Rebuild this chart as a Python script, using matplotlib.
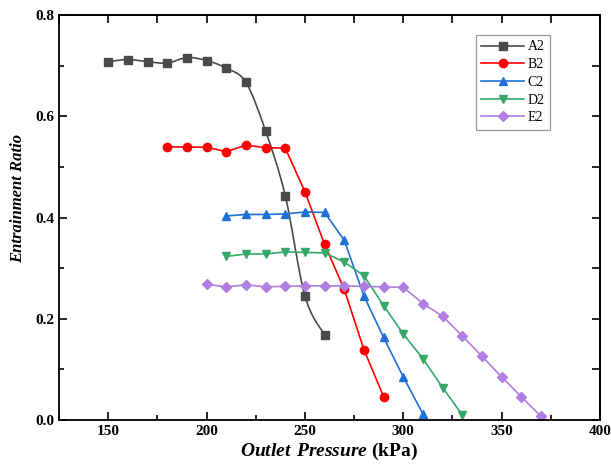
import numpy as np
import matplotlib
matplotlib.use('Agg')
import matplotlib.pyplot as plt
from matplotlib.path import Path
from matplotlib.patches import PathPatch
from matplotlib.lines import Line2D
from matplotlib.ticker import MultipleLocator, FormatStrFormatter

plt.rcParams['font.family'] = 'Liberation Serif'
plt.rcParams['mathtext.fontset'] = 'custom'
plt.rcParams['mathtext.bfit'] = 'Liberation Serif:italic:bold'
plt.rcParams['mathtext.rm'] = 'Liberation Serif'

# data
a2_x = [150, 160, 170, 180, 190, 200, 210, 220, 230, 240, 250, 260]
a2_y = [0.708, 0.712, 0.708, 0.705, 0.716, 0.710, 0.695, 0.667, 0.571, 0.443, 0.245, 0.168]

b2_x = [180, 190, 200, 210, 220, 230, 240, 250, 260, 270, 280, 290]
b2_y = [0.540, 0.539, 0.539, 0.530, 0.543, 0.538, 0.537, 0.451, 0.347, 0.258, 0.139, 0.046]

c2_x = [210, 220, 230, 240, 250, 260, 270, 280, 290, 300, 310]
c2_y = [0.403, 0.406, 0.406, 0.407, 0.411, 0.410, 0.355, 0.245, 0.163, 0.085, 0.012]

d2_x = [210, 220, 230, 240, 250, 260, 270, 280, 290, 300, 310, 320, 330]
d2_y = [0.323, 0.328, 0.328, 0.332, 0.331, 0.330, 0.312, 0.285, 0.226, 0.170, 0.121, 0.064, 0.010]

e2_x = [200, 210, 220, 230, 240, 250, 260, 270, 280, 290, 300, 310, 320, 330, 340, 350, 360, 370]
e2_y = [0.268, 0.263, 0.267, 0.263, 0.264, 0.265, 0.265, 0.265, 0.264, 0.263, 0.262,
        0.230, 0.205, 0.166, 0.126, 0.085, 0.046, 0.007]

col_a = '#4a4a4a'
col_b = '#ff0000'
col_c = '#1f6fd8'
col_d = '#35a86a'
col_e = '#b07ee0'


def smooth_path(xs, ys):
    # catmull-rom style bezier through the points (spline connection)
    xs = np.asarray(xs, float)
    ys = np.asarray(ys, float)
    verts = [(xs[0], ys[0])]
    codes = [Path.MOVETO]
    n = len(xs)
    for i in range(n - 1):
        x0, y0 = (xs[i - 1], ys[i - 1]) if i > 0 else (xs[i], ys[i])
        x3, y3 = (xs[i + 2], ys[i + 2]) if i + 2 < n else (xs[i + 1], ys[i + 1])
        c1 = (xs[i] + (xs[i + 1] - x0) / 6, ys[i] + (ys[i + 1] - y0) / 6)
        c2 = (xs[i + 1] - (x3 - xs[i]) / 6, ys[i + 1] - (y3 - ys[i]) / 6)
        verts += [c1, c2, (xs[i + 1], ys[i + 1])]
        codes += [Path.CURVE4] * 3
    return Path(verts, codes)


fig = plt.figure(figsize=(6.11, 4.65), dpi=100)
ax = fig.add_axes([0.0966, 0.0968, 0.8854, 0.8709])

lw = 1.2
ax.add_patch(PathPatch(smooth_path(a2_x, a2_y), fc='none', ec=col_a, lw=lw, zorder=2))
ax.plot(a2_x, a2_y, ls='none', marker='s', ms=5.5, color=col_a, zorder=3)
ax.plot(b2_x, b2_y, '-', marker='o', ms=6, color=col_b, lw=lw)
ax.plot(c2_x, c2_y, '-', marker='^', ms=6.2, color=col_c, lw=lw)
ax.plot(d2_x, d2_y, '-', marker='v', ms=6.2, color=col_d, lw=lw)
ax.plot(e2_x, e2_y, '-', marker='D', ms=5, color=col_e, lw=lw)

ax.set_xlim(125, 400)
ax.set_ylim(0, 0.8)
ax.xaxis.set_major_locator(MultipleLocator(50))
ax.xaxis.set_minor_locator(MultipleLocator(25))
ax.yaxis.set_major_locator(MultipleLocator(0.2))
ax.yaxis.set_minor_locator(MultipleLocator(0.1))
ax.yaxis.set_major_formatter(FormatStrFormatter('%.1f'))
ax.tick_params(which='both', direction='in', width=1.2, labelsize=11)
ax.tick_params(which='major', length=6)
ax.tick_params(which='minor', length=3.5)
for lab in ax.get_xticklabels() + ax.get_yticklabels():
    lab.set_fontweight('bold')

top = ax.secondary_xaxis('top')
top.xaxis.set_major_locator(MultipleLocator(25))
top.tick_params(direction='in', length=6, width=1.2, labeltop=False)
right = ax.secondary_yaxis('right')
right.yaxis.set_major_locator(MultipleLocator(0.1))
right.tick_params(direction='in', length=6, width=1.2, labelright=False)

for s in ax.spines.values():
    s.set_linewidth(1.3)
top.spines['top'].set_linewidth(1.3)
right.spines['right'].set_linewidth(1.3)

ax.set_xlabel(r'$\mathbfit{Outlet\ Pressure}$ (kPa)', fontsize=14, fontweight='bold')
ax.xaxis.set_label_coords(0.5, -0.052)
ax.set_ylabel('Entrainment Ratio', fontsize=12, fontweight='bold', fontstyle='italic')
ax.yaxis.set_label_coords(-0.06, 0.548)

handles = [
    Line2D([], [], color=col_a, marker='s', ms=5.5, lw=lw),
    Line2D([], [], color=col_b, marker='o', ms=6, lw=lw),
    Line2D([], [], color=col_c, marker='^', ms=6, lw=lw),
    Line2D([], [], color=col_d, marker='v', ms=6, lw=lw),
    Line2D([], [], color=col_e, marker='D', ms=5, lw=lw),
]
leg = ax.legend(handles, ['A2', 'B2', 'C2', 'D2', 'E2'], loc='upper right',
                bbox_to_anchor=(0.908, 0.951), fontsize=10, handlelength=3.1,
                handletextpad=0.25, labelspacing=0.34, borderpad=0.4,
                borderaxespad=0, fancybox=False, edgecolor='#999999', framealpha=1)
leg.get_frame().set_linewidth(0.9)

fig.savefig('out.png', dpi=100)
